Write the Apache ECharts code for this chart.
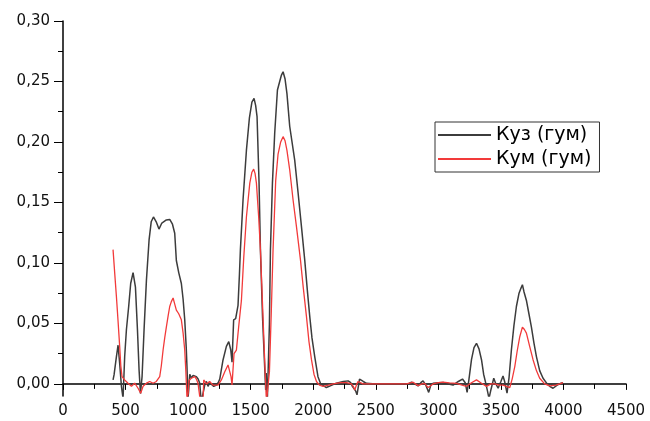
<!DOCTYPE html>
<html>
<head>
<meta charset="utf-8">
<script src="https://cdn.jsdelivr.net/npm/echarts@6/dist/echarts.min.js"></script>
<style>
  html, body { margin: 0; padding: 0; background: #fff; }
  #main { width: 650px; height: 421px; }
</style>
</head>
<body>
<div id="main"></div>
<script type="text/javascript">
// Куз (гум) - black
var kuzX = [400, 408, 427, 440, 453, 467, 480, 493, 507, 525, 541, 560, 579, 595, 608, 619, 632, 648, 667, 688,
  705, 723, 745, 767, 790, 826, 853, 875, 893, 906, 925, 946, 960, 973, 985, 991, 999, 1005, 1013, 1026,
  1040, 1047, 1066, 1080, 1093, 1105, 1119, 1135, 1146, 1159, 1172, 1186, 1205, 1226, 1240, 1253, 1279, 1306, 1325, 1341,
  1351, 1364, 1380, 1399, 1410, 1418, 1439, 1466, 1490, 1510, 1527, 1540, 1551, 1567, 1578, 1595, 1612, 1620, 1624, 1628,
  1633, 1642, 1650, 1658, 1674, 1692, 1714, 1732, 1745, 1759, 1775, 1790, 1812, 1852, 1879, 1906, 1932, 1955, 1972, 1990,
  2012, 2038, 2060, 2105, 2150, 2185, 2240, 2279, 2300, 2313, 2340, 2350, 2360, 2370, 2377, 2400, 2425, 2500, 2600, 2700,
  2760, 2785, 2810, 2838, 2860, 2878, 2900, 2923, 2940, 2958, 3000, 3038, 3080, 3118, 3160, 3193, 3215, 3230, 3245, 3265,
  3285, 3305, 3325, 3345, 3362, 3379, 3393, 3405, 3420, 3443, 3460, 3478, 3500, 3517, 3530, 3549, 3565, 3584, 3604, 3624,
  3645, 3660, 3672, 3685, 3704, 3724, 3744, 3764, 3784, 3810, 3837, 3870, 3890, 3917, 3950, 3980, 3997];
var kuzY = [0.0033, 0.0074, 0.0226, 0.032, 0.017, -0.002, -0.012, 0.0226, 0.045, 0.064, 0.083, 0.092, 0.080, 0.045, 0.0116, -0.008, 0.006, 0.045, 0.086, 0.119,
  0.134, 0.138, 0.134, 0.128, 0.133, 0.1355, 0.136, 0.132, 0.1245, 0.102, 0.092, 0.083, 0.070, 0.053, 0.030, 0.014, -0.012, -0.005, 0.008, 0.005,
  0.007, 0.008, 0.006, 0.004, 0.0005, -0.015, -0.015, 0.0, 0.002, -0.002, 0.001, 0.0005, -0.002, -0.001, 0.001, 0.004, 0.0198, 0.031, 0.035, 0.028,
  0.018, 0.053, 0.054, 0.065, 0.09, 0.111, 0.152, 0.193, 0.220, 0.233, 0.236, 0.230, 0.221, 0.166, 0.111, 0.055, 0.014, -0.005, 0.009, -0.002,
  -0.015, -0.015, 0.05, 0.111, 0.166, 0.207, 0.243, 0.250, 0.255, 0.258, 0.252, 0.240, 0.213, 0.185, 0.158, 0.13, 0.1025, 0.075, 0.056, 0.038,
  0.0226, 0.006, 0.0, -0.003, -0.001, 0.0006, 0.002, 0.0025, 0.001, -0.002, -0.006, -0.009, -0.008, 0.004, 0.004, 0.002, 0.0005, 0.0, 0.0, 0.0,
  0.0, 0.0014, 0.0, -0.0017, 0.001, 0.0025, -0.001, -0.007, -0.001, 0.0005, 0.001, 0.0012, 0.0, -0.001, 0.002, 0.004, 0.001, -0.007, 0.004, 0.02,
  0.030, 0.0336, 0.029, 0.02, 0.008, 0.0006, -0.006, -0.012, -0.005, 0.0047, 0.0, -0.0036, 0.002, 0.0066, 0.002, -0.0077, 0.005, 0.028, 0.048, 0.064,
  0.075, 0.079, 0.082, 0.076, 0.069, 0.058, 0.047, 0.034, 0.0226, 0.011, 0.0047, 0.0, -0.002, -0.0036, -0.001, 0.0005, 0.001];

// Кум (гум) - red
var kumX = [400, 413, 427, 440, 453, 462, 472, 493, 520, 547, 573, 600, 621, 640, 667, 693, 720, 746, 773, 786,
  800, 813, 826, 840, 853, 866, 880, 893, 906, 925, 946, 960, 973, 982, 991, 1000, 1007, 1026, 1040, 1053,
  1066, 1079, 1090, 1098, 1119, 1125, 1138, 1146, 1159, 1172, 1186, 1199, 1239, 1266, 1293, 1319, 1332, 1343, 1351, 1367,
  1386, 1404, 1426, 1445, 1466, 1493, 1510, 1524, 1535, 1546, 1564, 1578, 1595, 1610, 1620, 1626, 1639, 1650, 1665, 1679,
  1700, 1719, 1740, 1759, 1775, 1790, 1812, 1839, 1866, 1898, 1920, 1946, 1966, 1986, 2006, 2026, 2050, 2079, 2120, 2159,
  2220, 2266, 2305, 2320, 2332, 2345, 2358, 2398, 2500, 2600, 2700, 2745, 2798, 2838, 2870, 2891, 2918, 2958, 3000, 3038,
  3090, 3145, 3190, 3225, 3265, 3305, 3345, 3385, 3420, 3451, 3485, 3517, 3545, 3571, 3590, 3611, 3630, 3651, 3672, 3688,
  3704, 3730, 3757, 3784, 3810, 3850, 3890, 3940, 3970, 3997];
var kumY = [0.111, 0.092, 0.072, 0.052, 0.031, 0.015, 0.006, 0.0033, 0.0006, -0.002, 0.0006, -0.0036, -0.0077, -0.002, 0.0006, 0.002, 0.0005, 0.002, 0.006, 0.015,
  0.028, 0.038, 0.047, 0.056, 0.064, 0.068, 0.071, 0.066, 0.061, 0.058, 0.053, 0.042, 0.028, 0.010, -0.012, -0.008, 0.003, 0.0047, 0.004, 0.006,
  0.004, 0.0006, -0.008, -0.015, -0.015, 0.0033, 0.0047, 0.0, 0.001, 0.002, 0.002, -0.001, -0.001, 0.0033, 0.010, 0.0157, 0.0143, 0.006, -0.0008, 0.025,
  0.028, 0.047, 0.069, 0.105, 0.138, 0.166, 0.175, 0.1775, 0.174, 0.166, 0.138, 0.111, 0.065, 0.025, 0.0, -0.015, -0.015, 0.01, 0.06, 0.111,
  0.168, 0.190, 0.200, 0.2044, 0.201, 0.193, 0.177, 0.152, 0.13, 0.1025, 0.08, 0.0556, 0.035, 0.02, 0.008, 0.002, -0.001, -0.002, -0.001, 0.0,
  0.001, 0.001, 0.0, -0.002, -0.005, -0.001, 0.002, 0.0, 0.0, 0.0, 0.0, 0.0, 0.0014, -0.0014, 0.0, 0.0005, -0.003, 0.0, 0.001, 0.0014,
  0.0008, 0.0005, -0.001, -0.002, 0.001, 0.0033, 0.0005, -0.002, 0.0, 0.0, -0.001, -0.001, -0.002, -0.003, 0.004, 0.0143, 0.027, 0.039, 0.047, 0.045,
  0.042, 0.031, 0.02, 0.011, 0.0047, 0.0, -0.0017, -0.001, 0.0, 0.001];

var seriesNames = ['Куз (гум)', 'Кум (гум)'];
var yMajor = [0, 0.05, 0.10, 0.15, 0.20, 0.25, 0.30];
var yMinor = [0.025, 0.075, 0.125, 0.175, 0.225, 0.275];

function pairs(xs, ys) {
  var out = [];
  for (var i = 0; i < xs.length; i++) {
    out.push([xs[i], ys[i]]);
  }
  return out;
}

var chart = echarts.init(document.getElementById('main'));
var axisFont = { fontFamily: 'DejaVu Sans', fontSize: 15, color: '#111' };

var option = {
  animation: false,
  grid: { left: 63, right: 24, top: 21, bottom: 25 },
  legend: {
    orient: 'vertical',
    left: 435,
    top: 122,
    data: seriesNames,
    icon: 'rect',
    itemWidth: 53,
    itemHeight: 2,
    itemGap: 4,
    padding: [3, 8, 3, 3],
    borderColor: '#333',
    borderWidth: 1,
    textStyle: { fontFamily: 'DejaVu Sans', fontSize: 19, color: '#000', lineHeight: 20 }
  },
  xAxis: {
    type: 'value',
    min: 0,
    max: 4500,
    interval: 500,
    axisLine: { lineStyle: { color: '#000', width: 1.5 } },
    axisTick: { length: 6, lineStyle: { color: '#000', width: 1 } },
    minorTick: { show: true, splitNumber: 2, length: 5, lineStyle: { color: '#000', width: 1 } },
    splitLine: { show: false },
    axisLabel: Object.assign({
      margin: 8,
      formatter: function (v) { return String(v); }
    }, axisFont)
  },
  yAxis: [{
    type: 'value',
    min: -0.01,
    max: 0.30,
    axisLine: { show: true, lineStyle: { color: '#000', width: 1.5 } },
    axisTick: { show: true, length: 9, customValues: yMajor, lineStyle: { color: '#000', width: 1 } },
    splitLine: { show: false },
    axisLabel: Object.assign({
      margin: 13,
      customValues: yMajor,
      formatter: function (v) { return v.toFixed(2).replace('.', ','); }
    }, axisFont)
  }, {
    type: 'value',
    position: 'left',
    min: -0.01,
    max: 0.30,
    axisLine: { show: false },
    axisTick: { show: true, length: 5, customValues: yMinor, lineStyle: { color: '#000', width: 1 } },
    axisLabel: { show: false },
    splitLine: { show: false }
  }],
  series: [{
    name: seriesNames[0],
    type: 'line',
    showSymbol: false,
    symbol: 'none',
    clip: true,
    color: '#3c3c3c',
    lineStyle: { color: '#3c3c3c', width: 1.5 },
    data: pairs(kuzX, kuzY)
  }, {
    name: seriesNames[1],
    type: 'line',
    showSymbol: false,
    symbol: 'none',
    clip: true,
    color: '#f23a3a',
    lineStyle: { color: '#f23a3a', width: 1.3 },
    data: pairs(kumX, kumY)
  }]
};
chart.setOption(option);
</script>
</body>
</html>
